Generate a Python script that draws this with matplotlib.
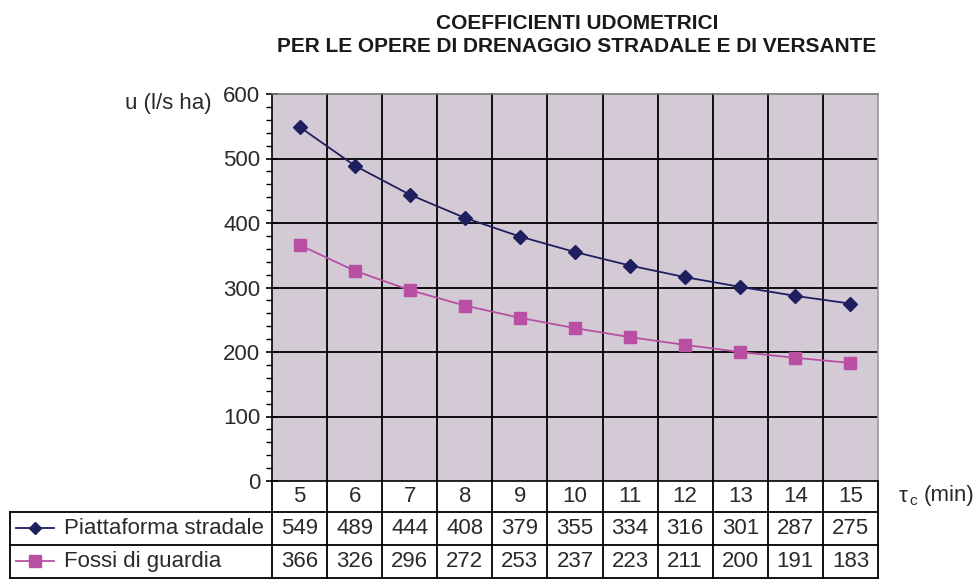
import matplotlib
matplotlib.use("Agg")
import matplotlib.pyplot as plt
import matplotlib.transforms as mtransforms
from matplotlib.lines import Line2D
from matplotlib.ticker import MultipleLocator

# data
tc = [5, 6, 7, 8, 9, 10, 11, 12, 13, 14, 15]
piattaforma = [549, 489, 444, 408, 379, 355, 334, 316, 301, 287, 275]
fossi = [366, 326, 296, 272, 253, 237, 223, 211, 200, 191, 183]
series_names = ["Piattaforma stradale", "Fossi di guardia"]
title = "COEFFICIENTI UDOMETRICI\nPER LE OPERE DI DRENAGGIO STRADALE E DI VERSANTE"

NAVY = "#1e1f5e"
PINK = "#b84fa3"
BG = "#d3cad6"
TXT = "#2a2a2a"
FS = 16

plt.rcParams["font.family"] = ["Liberation Sans", "DejaVu Sans"]

fig = plt.figure(figsize=(9.73, 5.80), dpi=100)
ax = fig.add_axes([272 / 973, 99 / 580, 606 / 973, 387 / 580])
ax.set_facecolor(BG)

ax.plot(tc, piattaforma, color=NAVY, lw=1.3, marker="D", ms=7, zorder=3)
ax.plot(tc, fossi, color=PINK, lw=1.3, marker="s", ms=8, zorder=3)

ax.set_xlim(tc[0] - 0.5, tc[-1] + 0.5)
ax.set_ylim(0, 600)
ax.yaxis.set_major_locator(MultipleLocator(100))
ax.yaxis.set_minor_locator(MultipleLocator(20))
ax.set_xticks([])
ax.tick_params(axis="y", which="major", direction="inout", length=9, width=1.2,
               labelsize=FS, labelcolor=TXT, pad=4)
ax.tick_params(axis="y", which="minor", direction="out", length=4, width=1.0)

for y in range(100, 600, 100):
    ax.axhline(y, color="black", lw=1.3, zorder=1)
for spine in ax.spines.values():
    spine.set_linewidth(1.2)
ax.spines["top"].set_color("#777777")
ax.spines["right"].set_color("#999999")

# table under the plot: x in data, y in axes fraction
trans = mtransforms.blended_transform_factory(ax.transData, ax.transAxes)
row_h = [-0.080, -0.1654, -0.2506]
x_left = tc[0] - 0.5
x_right = tc[-1] + 0.5
x_lab = x_left - 0.4323 * (x_right - x_left)

for i in range(len(tc) + 1):
    xb = x_left + i
    ax.plot([xb, xb], [1 if 0 < i < len(tc) else 0, row_h[2]], transform=trans,
            color="black", lw=1.3, clip_on=False, zorder=2)
for j, yb in enumerate(row_h):
    x0 = x_left if j == 0 else x_lab
    ax.plot([x0, x_right], [yb, yb], transform=trans, color="black", lw=1.3,
            clip_on=False)
ax.plot([x_lab, x_left], [row_h[0], row_h[0]], transform=trans, color="black",
        lw=1.3, clip_on=False)
ax.plot([x_lab, x_lab], [row_h[0], row_h[2]], transform=trans, color="black",
        lw=1.3, clip_on=False)

for i, t in enumerate(tc):
    ax.text(t, (0 + row_h[0]) / 2, str(t), transform=trans, ha="center",
            va="center", fontsize=FS, color=TXT)
    ax.text(t, (row_h[0] + row_h[1]) / 2, str(piattaforma[i]), transform=trans,
            ha="center", va="center", fontsize=FS, color=TXT)
    ax.text(t, (row_h[1] + row_h[2]) / 2, str(fossi[i]), transform=trans,
            ha="center", va="center", fontsize=FS, color=TXT)

# legend keys in the row labels
for k, (name, col, mk, ms) in enumerate(zip(series_names, [NAVY, PINK], ["D", "s"], [6, 8])):
    yc = (row_h[k] + row_h[k + 1]) / 2
    ax.add_line(Line2D([x_lab + 0.1, x_lab + 0.8], [yc, yc], transform=trans,
                       color=col, lw=1.3, marker=None, clip_on=False))
    ax.add_line(Line2D([x_lab + 0.45], [yc], transform=trans, color=col,
                       marker=mk, ms=ms, clip_on=False))
    ax.text(x_lab + 0.98, yc, name, transform=trans, ha="left", va="center",
            fontsize=FS, color=TXT)

fig.text(212 / 973, 1 - 103 / 580, "u (l/s ha)", ha="right", va="center",
         fontsize=FS, color=TXT)
fig.text(899 / 973, 1 - 496 / 580, "τ", ha="left", va="center",
         fontsize=FS, color=TXT)
fig.text(909 / 973, 1 - 501 / 580, "c", ha="left", va="center",
         fontsize=11, color=TXT)
fig.text(924 / 973, 1 - 496 / 580, "(min)", ha="left", va="center",
         fontsize=FS, color=TXT)

fig.text(577 / 973, 1 - 35 / 580, title, ha="center", va="center",
         fontsize=15, fontweight="bold", color="#1a1a1a", linespacing=1.3)

fig.savefig("out.png", dpi=100, facecolor="white")
